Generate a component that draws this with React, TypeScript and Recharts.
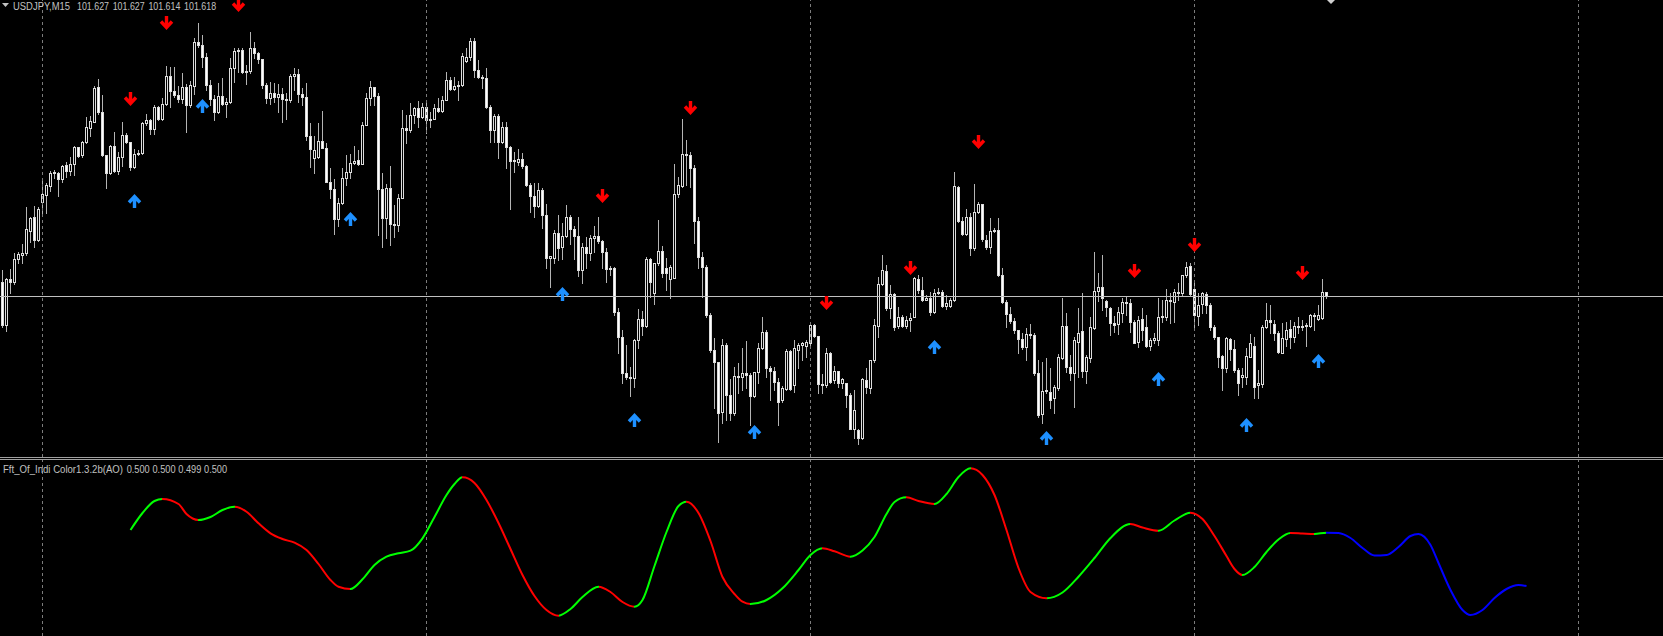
import React from 'react';
import { ComposedChart, Bar, Scatter, Line, XAxis, YAxis, ReferenceLine } from 'recharts';

// ---------- data (prices in points, 1 point = 0.001 JPY) ----------
const symbolLabel = 'USDJPY,M15';
const indicatorLabel = 'Fft_Of_Indi Color1.3.2b(AO)';
const indicatorLabelValues = ['0.500', '0.500', '0.499', '0.500'];

const opens = [
  101646,101560,101652,101646,101692,101700,101704,101748,101776,101730,
  101806,101820,101838,101864,101864,101852,101880,101868,101882,101916,
  101900,101926,101954,101966,102036,101986,101900,101864,101918,101868,
  101896,101940,101926,101876,101902,101904,101964,101970,101952,101996,
  101972,102002,102058,102028,102020,102012,102036,102000,102038,102126,
  102120,102096,102040,102012,101986,102018,102002,102006,102074,102108,
  102110,102066,102068,102114,102104,102092,102040,102014,102024,102016,
  102022,102012,102010,102058,102062,102022,102016,101938,101894,101896,
  101928,101914,101846,101832,101772,101804,101854,101866,101884,101890,
  101882,101960,102014,102036,102018,101832,101774,101834,101762,101760,
  101814,101954,101950,101980,101994,101976,101996,101970,101972,101994,
  101988,102010,102050,102032,102038,102040,102088,102096,102128,102070,
  102056,102054,101996,101950,101978,101926,101956,101916,101888,101886,
  101892,101878,101840,101818,101798,101830,101780,101694,101694,101744,
  101716,101738,101776,101752,101738,101670,101716,101704,101734,101738,
  101728,101706,101672,101674,101586,101536,101464,101456,101454,101530,
  101572,101558,101692,101624,101684,101708,101674,101652,101654,101822,
  101838,101902,101900,101874,101768,101696,101676,101580,101510,101486,
  101386,101520,101420,101384,101458,101456,101464,101460,101418,101466,
  101514,101546,101474,101468,101446,101410,101432,101508,101440,101510,
  101520,101518,101524,101560,101538,101442,101440,101504,101450,101468,
  101444,101444,101420,101352,101350,101334,101450,101434,101490,101558,
  101642,101668,101594,101622,101558,101576,101558,101570,101576,101652,
  101630,101610,101614,101586,101624,101626,101598,101598,101610,101836,
  101768,101742,101776,101714,101786,101802,101730,101716,101748,101750,
  101660,101606,101582,101568,101550,101532,101516,101542,101540,101464,
  101382,101428,101426,101414,101434,101494,101558,101476,101464,101526,
  101548,101468,101494,101554,101628,101636,101608,101594,101564,101562,
  101584,101606,101604,101566,101526,101572,101556,101518,101530,101530,
  101576,101576,101610,101606,101626,101624,101660,101678,101632,101578,
  101602,101622,101600,101556,101536,101498,101474,101532,101512,101470,
  101456,101456,101496,101518,101440,101442,101556,101570,101562,101544,
  101504,101532,101552,101536,101558,101556,101560,101558,101580,101572,
  101574,101627,
];
const highs = [
  101670,101654,101672,101704,101706,101722,101796,101776,101798,101796,
  101854,101844,101868,101870,101866,101880,101886,101896,101918,101916,
  101928,101976,101978,102038,102052,102020,101900,101920,101946,101906,
  101966,101944,101926,101912,101910,101966,101982,101972,102000,101998,
  102014,102078,102076,102076,102038,102064,102042,102048,102134,102164,
  102140,102104,102050,102020,102044,102054,102014,102094,102114,102114,
  102114,102080,102146,102126,102106,102092,102044,102046,102044,102042,
  102034,102024,102062,102074,102072,102034,102044,101964,101938,101964,
  101988,101924,101874,101852,101814,101874,101900,101902,101918,101910,
  101966,102024,102048,102036,102024,101864,101842,101878,101800,101822,
  101990,101980,102004,101996,102008,102004,102006,101986,102002,102014,
  102018,102066,102056,102056,102048,102104,102114,102134,102134,102090,
  102060,102074,102000,101982,101982,101966,101966,101918,101906,101912,
  101904,101880,101844,101844,101844,101834,101802,101698,101750,101780,
  101764,101800,101780,101758,101776,101724,101736,101740,101758,101776,
  101730,101714,101678,101676,101594,101550,101520,101476,101532,101592,
  101588,101696,101694,101684,101770,101718,101694,101680,101882,101856,
  101972,101930,101906,101880,101776,101706,101680,101584,101534,101486,
  101532,101524,101452,101476,101484,101514,101528,101464,101466,101524,
  101576,101550,101478,101476,101454,101438,101512,101510,101530,101524,
  101526,101530,101564,101562,101538,101462,101514,101506,101478,101468,
  101454,101444,101424,101430,101352,101454,101474,101490,101572,101656,
  101700,101680,101640,101624,101596,101580,101578,101584,101656,101660,
  101656,101620,101626,101632,101634,101630,101620,101614,101866,101838,
  101776,101792,101784,101842,101806,101802,101740,101774,101754,101774,
  101674,101610,101596,101574,101550,101544,101554,101562,101544,101490,
  101486,101494,101474,101440,101502,101614,101584,101500,101536,101594,
  101624,101500,101576,101706,101664,101700,101610,101596,101578,101596,
  101614,101616,101612,101570,101578,101594,101580,101534,101544,101614,
  101610,101632,101624,101632,101644,101660,101686,101684,101644,101624,
  101626,101626,101604,101560,101536,101500,101536,101534,101530,101474,
  101474,101514,101542,101536,101470,101560,101604,101600,101570,101548,
  101564,101566,101570,101566,101576,101570,101564,101582,101584,101600,
  101652,101627,
];
const lows = [
  101556,101548,101624,101642,101684,101684,101700,101726,101716,101728,
  101784,101784,101828,101854,101818,101846,101856,101860,101860,101896,
  101896,101924,101938,101966,101982,101898,101834,101862,101866,101862,
  101878,101924,101870,101874,101900,101902,101960,101942,101942,101970,
  101970,102000,101996,102016,102006,102004,101946,101996,102022,102116,
  102076,102030,102000,101970,101984,102000,101976,102004,102046,102066,
  102064,102042,102064,102094,102084,102034,102004,102002,102006,101986,
  101966,101972,102006,102030,102006,102000,101930,101876,101864,101894,
  101914,101846,101814,101742,101758,101802,101840,101854,101882,101880,
  101882,101960,102000,102000,101740,101716,101734,101720,101736,101748,
  101814,101924,101946,101964,101956,101974,101944,101956,101972,101986,
  101986,102010,102030,102030,102010,102038,102086,102090,102056,102054,
  102034,101994,101926,101926,101894,101924,101874,101792,101866,101880,
  101874,101838,101786,101776,101796,101754,101674,101636,101684,101690,
  101692,101736,101722,101692,101658,101644,101674,101690,101706,101724,
  101674,101646,101660,101580,101504,101444,101452,101418,101436,101514,
  101540,101556,101616,101602,101680,101656,101630,101614,101654,101816,
  101836,101840,101836,101724,101674,101616,101576,101506,101394,101326,
  101364,101370,101370,101380,101424,101430,101434,101360,101416,101444,
  101512,101456,101410,101430,101360,101406,101430,101430,101426,101474,
  101490,101496,101516,101536,101424,101424,101436,101444,101444,101436,
  101434,101396,101352,101334,101322,101332,101424,101424,101486,101536,
  101640,101590,101574,101550,101554,101556,101554,101548,101576,101624,
  101608,101610,101580,101584,101622,101596,101592,101596,101608,101766,
  101740,101740,101700,101710,101784,101728,101712,101704,101746,101658,
  101604,101556,101564,101544,101504,101512,101490,101534,101460,101376,
  101364,101424,101394,101384,101430,101492,101466,101450,101396,101456,
  101456,101444,101486,101552,101608,101590,101578,101540,101546,101542,
  101566,101580,101546,101524,101516,101530,101516,101510,101524,101520,
  101566,101570,101564,101566,101610,101620,101656,101620,101552,101560,
  101584,101584,101550,101532,101476,101430,101466,101490,101466,101420,
  101436,101442,101496,101414,101414,101436,101554,101544,101530,101504,
  101504,101518,101514,101526,101544,101550,101518,101556,101550,101570,
  101572,101614,
];
const closes = [
  101560,101652,101646,101692,101702,101704,101752,101774,101730,101792,
  101822,101840,101864,101866,101852,101878,101868,101882,101916,101898,
  101926,101956,101968,102034,101986,101900,101864,101918,101868,101896,
  101940,101926,101876,101902,101904,101964,101970,101952,101996,101972,
  102002,102058,102028,102020,102012,102036,102000,102040,102126,102120,
  102096,102040,102012,101986,102018,102002,102006,102074,102108,102110,
  102066,102068,102114,102104,102092,102040,102014,102024,102016,102022,
  102012,102010,102058,102062,102022,102016,101938,101912,101910,101928,
  101914,101846,101832,101772,101804,101854,101866,101884,101888,101882,
  101960,102014,102036,102018,101832,101774,101834,101762,101760,101814,
  101954,101950,101980,101994,101976,101996,101970,101972,101994,101988,
  102010,102050,102032,102038,102040,102098,102096,102128,102070,102056,
  102054,101996,101950,101978,101926,101956,101916,101888,101890,101892,
  101878,101840,101818,101798,101830,101780,101694,101698,101744,101714,
  101738,101776,101752,101738,101670,101716,101704,101734,101738,101728,
  101706,101672,101674,101586,101536,101464,101456,101454,101530,101572,
  101558,101692,101646,101684,101708,101664,101664,101676,101822,101840,
  101902,101900,101874,101768,101696,101676,101580,101510,101486,101384,
  101520,101420,101384,101458,101456,101464,101460,101418,101466,101514,
  101546,101474,101468,101446,101406,101434,101508,101432,101514,101520,
  101524,101526,101560,101538,101442,101440,101504,101446,101468,101444,
  101452,101420,101352,101390,101334,101452,101436,101490,101560,101642,
  101670,101594,101622,101556,101576,101558,101570,101574,101654,101630,
  101610,101614,101586,101624,101626,101598,101604,101610,101838,101768,
  101742,101776,101714,101786,101802,101732,101716,101748,101750,101660,
  101606,101582,101568,101550,101532,101516,101542,101540,101464,101380,
  101428,101430,101410,101436,101496,101558,101476,101464,101530,101544,
  101468,101496,101556,101628,101636,101614,101596,101564,101560,101586,
  101606,101604,101566,101524,101570,101550,101518,101530,101534,101576,
  101578,101610,101608,101626,101624,101660,101676,101622,101580,101600,
  101624,101600,101556,101536,101496,101474,101534,101512,101470,101444,
  101460,101498,101524,101436,101444,101556,101570,101566,101544,101506,
  101534,101550,101536,101558,101556,101558,101558,101580,101578,101580,
  101626,101618,
];

const sellArrowBars = [32, 41, 59, 150, 172, 206, 227, 244, 283, 298, 325];
const sellArrowPrices = [102014, 102166, 102200, 101820, 101994, 101604, 101674, 101928, 101668, 101720, 101666];
const buyArrowBars = [33, 50, 87, 140, 158, 188, 233, 261, 289, 311, 329];
const buyArrowPrices = [101808, 101998, 101772, 101624, 101370, 101346, 101516, 101334, 101452, 101362, 101490];

const fftBars = [
  32,35,38,40,44,46,49,52,55,58,61,64,67,70,73,76,79,82,84,87,
  90,93,96,99,102,105,108,111,113,115,118,121,124,127,130,133,136,139,142,145,
  149,152,155,158,160,163,166,169,171,174,177,180,183,185,187,191,195,199,202,205,
  208,212,215,218,221,223,226,229,233,236,239,242,245,248,251,254,257,261,265,269,
  273,277,282,285,289,293,297,300,303,306,308,310,313,316,319,322,325,328,331,334,
  337,340,343,346,349,352,354,357,359,362,365,367,370,373,376,379,381,
];
const fftValues = [
  106,123,135,137,132,122,116,119,126,129.3,124.3,112.7,102.7,97,93.3,86,72,56,49.3,47,
  56.7,71,79.3,82.7,85.3,97.7,119,141,152,158.7,153,136,113,87,61,40,26,20.3,27,39,
  49.3,44,34,29.3,36,70,104,130,134.3,123,95,59,42,34.3,32,36,47.7,66,81,87.7,
  84.7,79.3,85.5,99,122,134,138.7,135,132,142,159,167.7,161,141,106,68,44,37.7,43.5,59.3,
  78,98,112,108.5,105.3,115.5,123.3,117,100,80,67,61,69,84,96.5,103,102.5,102,103.3,103,
  98,88,80.5,81,89,100,102,91,73,46,26,21,26,38,47,51,50,
];
const fftColorFrom = [32,40,49,58,87,115,139,149,158,171,187,205,212,226,233,242,261,282,289,297,310,322,328,331];
const fftColorName = ['up','down','up','down','up','down','up','down','up','down','up','down','up','down','up','down','up','down','up','down','up','down','up','future'];

const separatorBars = [10, 106, 202, 298, 394];

// ---------- styling ----------
const WIDTH = 1663;
const MAIN_H = 457;
const IND_H = 176;
const X_DOMAIN: [number, number] = [-0.625, 415.125];
const PRICE_DOMAIN: [number, number] = [101.297, 102.211];
const IND_DOMAIN: [number, number] = [0, 176];
const WICK = '#b4b4b4';
const BODY = '#dcdcdc';
const GRID = '#7c7c7c';
const TEXT = '#c0c0c0';
const COLORS: Record<string, string> = { up: '#00ff00', down: '#ff0000', future: '#0000ff' };
const FONT = "Tahoma, 'Liberation Sans', Arial, sans-serif";

const N = Math.min(opens.length, highs.length, lows.length, closes.length);
const candles = Array.from({ length: N }, (_, i) => ({
  i,
  o: opens[i] / 1000,
  h: highs[i] / 1000,
  l: lows[i] / 1000,
  c: closes[i] / 1000,
  range: [lows[i] / 1000, highs[i] / 1000],
}));
const sellArrows = sellArrowBars.map((i, k) => ({ i, p: sellArrowPrices[k] / 1000 }));
const buyArrows = buyArrowBars.map((i, k) => ({ i, p: buyArrowPrices[k] / 1000 }));
const fftData = fftBars.map((i, k) => ({ i, v: fftValues[k] }));
const last = candles[candles.length - 1];
const bidPrice = last.c;
const headerValues = [last.o, last.h, last.l, last.c].map((v) => v.toFixed(3));

const snap = (v: number) => Math.round(v - 0.5) + 0.5;

function CandleShape(props: any) {
  const { x, y, width, height, payload } = props;
  if (x == null || y == null || !payload) return null;
  const cx = Math.floor(x + width / 2) + 0.5;
  const top = Math.min(y, y + height);
  const bot = Math.max(y, y + height);
  const span = payload.h - payload.l;
  const toY = (p: number) => (span > 0 ? top + ((payload.h - p) / span) * (bot - top) : top);
  const yo = snap(toY(payload.o));
  const yc = snap(toY(payload.c));
  const bTop = Math.min(yo, yc);
  const bBot = Math.max(yo, yc);
  const bull = payload.c > payload.o;
  return (
    <g>
      <line x1={cx} x2={cx} y1={snap(top) - 0.5} y2={snap(bot) + 0.5} stroke={WICK} strokeWidth={1} />
      {bBot - bTop < 1 ? (
        <line x1={cx - 1.5} x2={cx + 1.5} y1={bTop} y2={bTop} stroke={BODY} strokeWidth={1} />
      ) : (
        <rect x={cx - 1} y={bTop} width={2} height={bBot - bTop} fill={bull ? '#000000' : '#ffffff'} stroke={BODY} strokeWidth={1} />
      )}
    </g>
  );
}

function SellArrow(props: any) {
  const { cx, cy } = props;
  if (cx == null || cy == null) return null;
  const x = snap(cx);
  const y = Math.round(cy);
  return (
    <path
      d={`M${x} ${y - 7}V${y + 4}M${x - 5.5} ${y - 1.5}L${x} ${y + 4.5}L${x + 5.5} ${y - 1.5}`}
      stroke="#ff0000"
      strokeWidth={3.4}
      fill="none"
    />
  );
}

function BuyArrow(props: any) {
  const { cx, cy } = props;
  if (cx == null || cy == null) return null;
  const x = snap(cx);
  const y = Math.round(cy);
  return (
    <path
      d={`M${x} ${y + 7}V${y - 4}M${x - 5.5} ${y + 1.5}L${x} ${y - 4.5}L${x + 5.5} ${y + 1.5}`}
      stroke="#1e90ff"
      strokeWidth={3.4}
      fill="none"
    />
  );
}

const firstBar = fftBars[0];
const lastBar = fftBars[fftBars.length - 1];
const gradStops: { off: number; color: string }[] = [];
fftColorFrom.forEach((from, k) => {
  const to = k + 1 < fftColorFrom.length ? fftColorFrom[k + 1] : lastBar;
  const color = COLORS[fftColorName[k]];
  gradStops.push({ off: (from - firstBar) / (lastBar - firstBar), color });
  gradStops.push({ off: (to - firstBar) / (lastBar - firstBar), color });
});

export default function App() {
  return (
    <div
      style={{
        position: 'absolute',
        left: 0,
        top: 0,
        width: WIDTH,
        height: 636,
        background: '#000',
        overflow: 'hidden',
      }}
    >
      <div style={{ position: 'absolute', left: 0, top: 0 }}>
        <ComposedChart width={WIDTH} height={MAIN_H} data={candles} margin={{ top: 0, right: 0, bottom: 0, left: 0 }}>
          <XAxis dataKey="i" type="number" domain={X_DOMAIN} allowDataOverflow hide />
          <YAxis type="number" domain={PRICE_DOMAIN} allowDataOverflow hide />
          {separatorBars.map((b) => (
            <ReferenceLine key={b} x={b} stroke={GRID} strokeDasharray="3 3" />
          ))}
          <ReferenceLine y={bidPrice} stroke="#c0c0c0" />
          <Bar dataKey="range" barSize={4} isAnimationActive={false} shape={(p: any) => <CandleShape {...p} />} />
          <Scatter data={sellArrows} dataKey="p" isAnimationActive={false} shape={(p: any) => <SellArrow {...p} />} />
          <Scatter data={buyArrows} dataKey="p" isAnimationActive={false} shape={(p: any) => <BuyArrow {...p} />} />
        </ComposedChart>
      </div>
      <div style={{ position: 'absolute', left: 0, top: 457, width: WIDTH, height: 1, background: '#a0a0a0' }} />
      <div style={{ position: 'absolute', left: 0, top: 459, width: WIDTH, height: 1, background: '#a0a0a0' }} />
      <div style={{ position: 'absolute', left: 0, top: 460 }}>
        <ComposedChart width={WIDTH} height={IND_H} data={fftData} margin={{ top: 0, right: 0, bottom: 0, left: 0 }}>
          <defs>
            <linearGradient id="fftGrad" x1="0" y1="0" x2="1" y2="0">
              {gradStops.map((s, k) => (
                <stop key={k} offset={s.off} stopColor={s.color} />
              ))}
            </linearGradient>
          </defs>
          <XAxis dataKey="i" type="number" domain={X_DOMAIN} allowDataOverflow hide />
          <YAxis type="number" domain={IND_DOMAIN} allowDataOverflow hide />
          {separatorBars.map((b) => (
            <ReferenceLine key={b} x={b} stroke={GRID} strokeDasharray="3 3" />
          ))}
          <Line
            type="monotone"
            dataKey="v"
            stroke="url(#fftGrad)"
            strokeWidth={2}
            dot={false}
            activeDot={false}
            isAnimationActive={false}
          />
        </ComposedChart>
      </div>
      <svg width={WIDTH} height={636} style={{ position: 'absolute', left: 0, top: 0, pointerEvents: 'none' }}>
        <polygon points="2,3 9,3 5.5,7" fill={TEXT} />
        <text x={13} y={9.5} fontSize={10} fontFamily={FONT} fill={TEXT} textLength={57} lengthAdjust="spacingAndGlyphs">
          {symbolLabel}
        </text>
        {headerValues.map((v, k) => (
          <text key={k} x={77 + 35.7 * k} y={9.5} fontSize={10} fontFamily={FONT} fill={TEXT} textLength={32} lengthAdjust="spacingAndGlyphs">
            {v}
          </text>
        ))}
        <polygon points="1327,0 1335,0 1331,4" fill="#d0d0d0" />
        <text x={3} y={472.5} fontSize={10} fontFamily={FONT} fill={TEXT} textLength={120} lengthAdjust="spacingAndGlyphs">
          {indicatorLabel}
        </text>
        {indicatorLabelValues.map((v, k) => (
          <text key={k} x={126.7 + 25.8 * k} y={472.5} fontSize={10} fontFamily={FONT} fill={TEXT} textLength={23} lengthAdjust="spacingAndGlyphs">
            {v}
          </text>
        ))}
      </svg>
    </div>
  );
}
